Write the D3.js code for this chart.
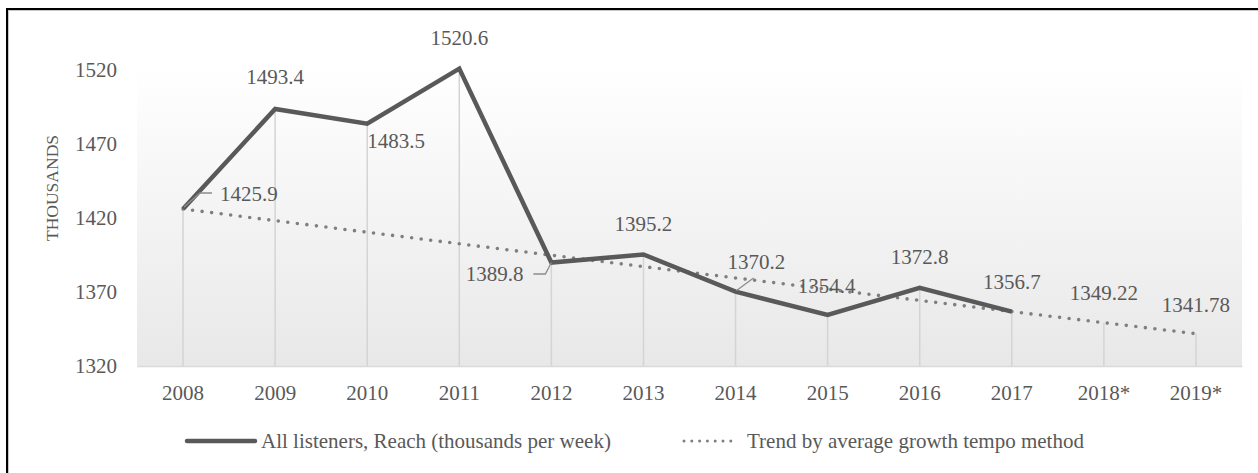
<!DOCTYPE html>
<html>
<head>
<meta charset="utf-8">
<script src="https://cdn.jsdelivr.net/npm/d3@7"></script>
<style>
  body { margin: 0; background: #fff; }
  svg text { font-family: "Liberation Serif", "DejaVu Serif", "Times New Roman", serif !important; fill: #595959; }
</style>
</head>
<body>
<svg id="chart" width="1258" height="473" font-family="Liberation Serif, DejaVu Serif, serif"></svg>
<script>
// data
var years = ["2008", "2009", "2010", "2011", "2012", "2013", "2014", "2015", "2016", "2017", "2018*", "2019*"];
var reach = [1425.9, 1493.4, 1483.5, 1520.6, 1389.8, 1395.2, 1370.2, 1354.4, 1372.8, 1356.7];
var trend = [1425.9, 1418.04, 1410.23, 1402.45, 1394.72, 1387.04, 1379.39, 1371.79, 1364.23, 1356.7, 1349.22, 1341.78];
var yTicks = [1320, 1370, 1420, 1470, 1520];
var reachLabels = ["1425.9", "1493.4", "1483.5", "1520.6", "1389.8", "1395.2", "1370.2", "1354.4", "1372.8", "1356.7"];
var trendLabels = ["1349.22", "1341.78"];
var legendNames = ["All listeners, Reach (thousands per week)", "Trend by average growth tempo method"];

// where each data label sits relative to its point
var reachLabelPos = [
    { dx: 37, dy: -15, anchor: "start", leader: [[1, -2], [17, -16], [29, -16]] },
    { dx: 0, dy: -32, anchor: "middle" },
    { dx: 0, dy: 17.5, anchor: "start" },
    { dx: 0, dy: -30.5, anchor: "middle" },
    { dx: -28, dy: 11.5, anchor: "end", leader: [[-18, 11.5], [-6, 11.5], [0, 0]] },
    { dx: 0, dy: -30.5, anchor: "middle" },
    { dx: -8, dy: -29.6, anchor: "start", leader: [[1, -1], [18, -13.5]] },
    { dx: -30, dy: -29, anchor: "start" },
    { dx: 0, dy: -30.7, anchor: "middle" },
    { dx: 0, dy: -29.6, anchor: "middle" }
];
var trendLabelPos = [
    { dx: 0, dy: -29.7, anchor: "middle" },
    { dx: 0, dy: -28.7, anchor: "middle" }
];

var serif = "'Liberation Serif', 'DejaVu Serif', serif";
var fontSize = 21;
var svg = d3.select("#chart");

var plot = { left: 137, right: 1242, top: 69.5, bottom: 366 };

var x = d3.scaleBand().domain(years).range([plot.left, plot.right]);
var y = d3.scaleLinear().domain([1320, 1520]).range([plot.bottom, plot.top]);
var cx = function(i) { return x(years[i]) + x.bandwidth() / 2; };

// frame (left and top edges show in the crop)
svg.append("line").attr("x1", 8.5).attr("x2", 8.5).attr("y1", 10).attr("y2", 473)
    .attr("stroke", "#c8c8c8").attr("stroke-width", 1);
svg.append("line").attr("x1", 8).attr("x2", 1258).attr("y1", 10.5).attr("y2", 10.5)
    .attr("stroke", "#c8c8c8").attr("stroke-width", 1);
svg.append("line").attr("x1", 7).attr("x2", 7).attr("y1", 8).attr("y2", 473)
    .attr("stroke", "#000").attr("stroke-width", 2);
svg.append("line").attr("x1", 6).attr("x2", 1258).attr("y1", 9).attr("y2", 9)
    .attr("stroke", "#000").attr("stroke-width", 2);

// plot area gradient
var grad = svg.append("defs").append("linearGradient")
    .attr("id", "bg").attr("x1", 0).attr("x2", 0).attr("y1", 0).attr("y2", 1);
grad.append("stop").attr("offset", "0%").attr("stop-color", "#ffffff");
grad.append("stop").attr("offset", "100%").attr("stop-color", "#e8e8e8");
svg.append("rect")
    .attr("x", plot.left).attr("y", plot.top)
    .attr("width", plot.right - plot.left).attr("height", plot.bottom - plot.top)
    .attr("fill", "url(#bg)");

// drop lines from each point to the axis
var dropValues = years.map(function(d, i) { return i < reach.length ? reach[i] : trend[i]; });
svg.append("g").selectAll("line")
    .data(dropValues)
    .join("line")
    .attr("x1", function(d, i) { return cx(i); })
    .attr("x2", function(d, i) { return cx(i); })
    .attr("y1", function(d) { return y(d); })
    .attr("y2", plot.bottom)
    .attr("stroke", "#d4d4d4")
    .attr("stroke-width", 1.5);

// axes
var xAxis = svg.append("g")
    .attr("transform", "translate(0," + plot.bottom + ")")
    .call(d3.axisBottom(x).tickSize(0).tickPadding(0));
xAxis.attr("font-family", serif).attr("font-size", fontSize);
xAxis.select(".domain").attr("stroke", "#d9d9d9").attr("stroke-width", 1.5);
xAxis.selectAll("text")
    .attr("y", 27).attr("dy", "0.35em")
    .attr("fill", "#595959");

var yAxis = svg.append("g")
    .attr("transform", "translate(" + plot.left + ",0)")
    .call(d3.axisLeft(y).tickValues(yTicks).tickSize(0).tickPadding(20).tickFormat(d3.format("d")));
yAxis.attr("font-family", serif).attr("font-size", fontSize);
yAxis.select(".domain").remove();
yAxis.selectAll("text").attr("fill", "#595959");

svg.append("text")
    .attr("transform", "translate(52,188) rotate(-90)")
    .attr("text-anchor", "middle")
    .attr("dy", "0.35em")
    .attr("font-family", serif)
    .attr("font-size", 17.5)
    .text("THOUSANDS");

// trend (dotted)
var valueLine = d3.line()
    .x(function(d, i) { return cx(i); })
    .y(function(d) { return y(d); });
svg.append("path")
    .datum(trend)
    .attr("d", valueLine)
    .attr("fill", "none")
    .attr("stroke", "#7f7f7f")
    .attr("stroke-width", 3.6)
    .attr("stroke-linecap", "round")
    .attr("stroke-dasharray", "0 9.6");

// main series
svg.append("path")
    .datum(reach)
    .attr("d", valueLine)
    .attr("fill", "none")
    .attr("stroke", "#595959")
    .attr("stroke-width", 4.5)
    .attr("stroke-linejoin", "miter");

// leader lines
reachLabelPos.forEach(function(p, i) {
    if (!p.leader) return;
    svg.append("path")
        .attr("d", d3.line()(p.leader.map(function(pt) { return [cx(i) + pt[0], y(reach[i]) + pt[1]]; })))
        .attr("fill", "none")
        .attr("stroke", "#8c8c8c")
        .attr("stroke-width", 1.3);
});

// data labels
svg.append("g").attr("font-family", serif).attr("font-size", fontSize)
    .selectAll("text")
    .data(reach)
    .join("text")
    .attr("x", function(d, i) { return cx(i) + reachLabelPos[i].dx; })
    .attr("y", function(d, i) { return y(d) + reachLabelPos[i].dy; })
    .attr("dy", "0.35em")
    .attr("text-anchor", function(d, i) { return reachLabelPos[i].anchor; })
    .text(function(d, i) { return reachLabels[i]; });

svg.append("g").attr("font-family", serif).attr("font-size", fontSize)
    .selectAll("text")
    .data(trendLabels)
    .join("text")
    .attr("x", function(d, i) { return cx(reach.length + i) + trendLabelPos[i].dx; })
    .attr("y", function(d, i) { return y(trend[reach.length + i]) + trendLabelPos[i].dy; })
    .attr("dy", "0.35em")
    .attr("text-anchor", function(d, i) { return trendLabelPos[i].anchor; })
    .text(function(d) { return d; });

// legend
var legY = 441;
var legend = svg.append("g").attr("font-family", serif).attr("font-size", fontSize);
legend.append("line").attr("x1", 187).attr("x2", 255).attr("y1", legY).attr("y2", legY)
    .attr("stroke", "#595959").attr("stroke-width", 4.5).attr("stroke-linecap", "round");
legend.append("text").attr("x", 261).attr("y", legY).attr("dy", "0.35em").text(legendNames[0]);
legend.append("line").attr("x1", 684).attr("x2", 731).attr("y1", legY).attr("y2", legY)
    .attr("stroke", "#7f7f7f").attr("stroke-width", 3).attr("stroke-linecap", "round")
    .attr("stroke-dasharray", "0 7.8");
legend.append("text").attr("x", 747).attr("y", legY).attr("dy", "0.35em").text(legendNames[1]);
</script>
</body>
</html>
